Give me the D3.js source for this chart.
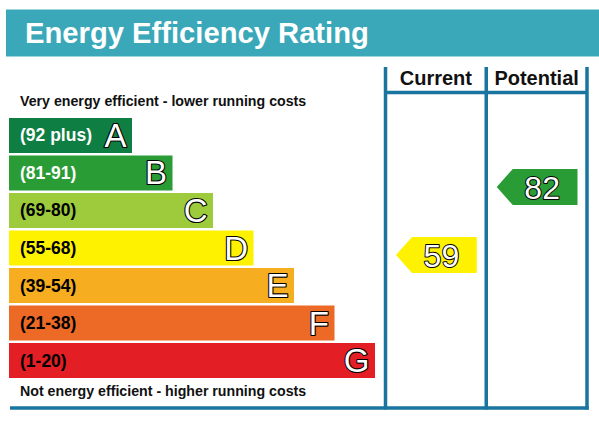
<!DOCTYPE html>
<html><head><meta charset="utf-8">
<script src="https://cdn.jsdelivr.net/npm/d3@7"></script>
<style>
html,body{margin:0;padding:0;background:#fff;}
svg{display:block;font-family:"Liberation Sans",Arial,sans-serif;}
</style></head>
<body>
<svg id="c" width="599" height="441"></svg>
<script>
const title = "Energy Efficiency Rating";
const bandLetters = ["A","B","C","D","E","F","G"];
const bandRanges = ["(92 plus)","(81-91)","(69-80)","(55-68)","(39-54)","(21-38)","(1-20)"];
const bandColors = ["#0e7e42","#2a9c36","#9dcb3c","#fff200","#f6ad1f","#ec6a25","#e31e25"];
const rangeTextColors = ["#fff","#fff","#000","#000","#000","#000","#000"];
const columns = ["Current","Potential"];
const ratings = [59, 82];
const ratingColors = ["#fff200","#2a9c36"];
const topNote = "Very energy efficient - lower running costs";
const bottomNote = "Not energy efficient - higher running costs";

const svg = d3.select("#c");
const teal = "#3ba8ba", blue = "#1a74a0";

// header
svg.append("rect").attr("x",6).attr("y",9.5).attr("width",593).attr("height",47).attr("fill",teal);
svg.append("text").attr("x",25).attr("y",42.5).attr("fill","#fff")
  .attr("font-size",29.2).attr("font-weight","bold").text(title);

// scales
const y = d3.scaleBand().domain(bandLetters).range([116.75,379.25]).paddingInner(0.0667).paddingOuter(0.0333);
const w = d3.scaleLinear().domain([0,6]).range([123,366]);
const x0 = 9;
const col = d3.scaleBand().domain(columns).range([385.5,587]);
const ry = d3.scaleLinear().domain([1,100]).range([426.5,133.8]);

// notes
svg.append("text").attr("x",20).attr("y",106).attr("font-size",14.2).attr("font-weight","bold").attr("fill","#111").text(topNote);
svg.append("text").attr("x",20).attr("y",396).attr("font-size",14.2).attr("font-weight","bold").attr("fill","#111").text(bottomNote);

// bars
const g = svg.append("g");
bandLetters.forEach((L,i)=>{
  const top = y(L), h = y.bandwidth(), right = x0 + w(i);
  g.append("rect").attr("x",x0).attr("y",top).attr("width",w(i)).attr("height",h).attr("fill",bandColors[i]);
  g.append("text").attr("x",20).attr("y",top+h/2+6).attr("font-size",17.5).attr("font-weight","bold")
    .attr("fill",rangeTextColors[i]).text(bandRanges[i]);
  g.append("text").attr("x",right-5.5).attr("y",top+h/2+11.5).attr("text-anchor","end")
    .attr("font-size",33).attr("fill","#fff").attr("stroke","#000").attr("stroke-width",2.2)
    .attr("stroke-linejoin","round").attr("paint-order","stroke").text(L);
});

// table lines
const lineTop = 67, lineBottom = 408;
const xs = [col(columns[0]), col(columns[1]), col(columns[1])+col.bandwidth()];
xs.forEach(x=>{
  svg.append("line").attr("x1",x).attr("x2",x).attr("y1",lineTop).attr("y2",lineBottom+1.5)
    .attr("stroke",blue).attr("stroke-width",3.5);
});
svg.append("line").attr("x1",xs[0]).attr("x2",xs[2]).attr("y1",92.5).attr("y2",92.5).attr("stroke",blue).attr("stroke-width",3.5);
svg.append("line").attr("x1",10).attr("x2",xs[2]+1.75).attr("y1",lineBottom).attr("y2",lineBottom).attr("stroke",blue).attr("stroke-width",3.5);

// column headers
columns.forEach(c=>{
  svg.append("text").attr("x",col(c)+col.bandwidth()/2).attr("y",84.5).attr("text-anchor","middle")
    .attr("font-size",20).attr("font-weight","bold").attr("fill","#111").text(c);
});

// rating arrows
ratings.forEach((v,i)=>{
  const c = columns[i];
  const left = col(c)+10.5, right = col(c)+col.bandwidth()-9.5, cy = ry(v), hh = 18, notch = 16;
  const pts = [[left,cy],[left+notch,cy-hh],[right,cy-hh],[right,cy+hh],[left+notch,cy+hh]];
  svg.append("path").attr("d", d3.line()(pts)+"Z").attr("fill",ratingColors[i]);
  svg.append("text").attr("x",(left+notch+right)/2-3).attr("y",cy+11.5).attr("text-anchor","middle")
    .attr("font-size",32).attr("fill","#fff").attr("stroke","#000").attr("stroke-width",2)
    .attr("stroke-linejoin","round").attr("paint-order","stroke").text(v);
});
</script>
</body></html>
